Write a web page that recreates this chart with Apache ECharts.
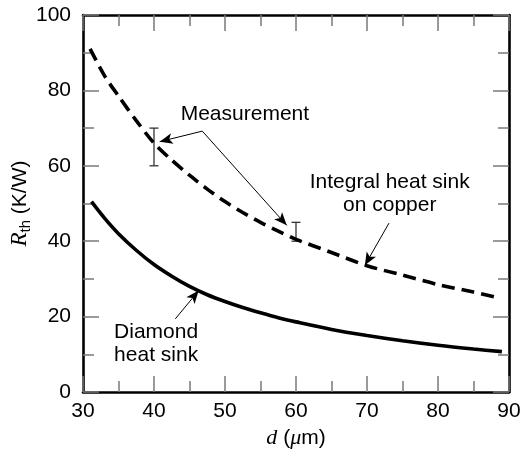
<!DOCTYPE html>
<html><head><meta charset="utf-8">
<script src="https://cdn.jsdelivr.net/npm/echarts@6/dist/echarts.min.js"></script>
<style>html,body{margin:0;padding:0;background:#fff}#c{width:524px;height:456px}</style>
</head><body><div id="c"></div>
<script>
// Integral heat sink on copper (dashed)
const copperD = [31, 33, 35, 37.5, 40, 42.5, 45, 47.5, 50, 52.5, 55, 57.5, 60, 65, 70, 75, 80, 85, 88.5];
const copperR = [91, 84, 78.5, 72, 66, 61.5, 57.5, 53.8, 50.5, 47.6, 45, 42.7, 40.5, 37, 33.5, 31, 28.5, 26.5, 25];
// Diamond heat sink (solid)
const diamondD = [31.2, 33, 35, 37.5, 40, 42.5, 45, 47.5, 50, 52.5, 55, 57.5, 60, 65, 70, 75, 80, 85, 89];
const diamondR = [50.5, 46.2, 42, 37.6, 33.8, 30.7, 28, 25.8, 24, 22.4, 21, 19.7, 18.6, 16.6, 15, 13.6, 12.4, 11.4, 10.7];
// Measurements (error bars)
const measD = [40, 60];
const measLow = [60, 40];
const measHigh = [70, 45];
// Axes
const xMin = 30, xMax = 90, xStep = 10;
const yMin = 0, yMax = 100, yStep = 20;

const FONT = 'Liberation Sans, Arial, Helvetica, sans-serif';
const tickStyle = {color: '#7a7a7a', width: 1.5};
function axisCommon(showLabels, margin) {
  return {
    axisLine: {show: true, onZero: false, lineStyle: {color: '#000', width: 2.6}},
    axisTick: {show: true, inside: true, length: 16, lineStyle: tickStyle},
    minorTick: {show: true, splitNumber: 2, length: 11, lineStyle: tickStyle},
    splitLine: {show: false},
    axisLabel: {show: showLabels, margin: margin, color: '#000', fontSize: 21, fontFamily: FONT}
  };
}
const xBase = {type: 'value', min: xMin, max: xMax, interval: xStep};
const yBase = {type: 'value', min: yMin, max: yMax, interval: yStep};

const chart = echarts.init(document.getElementById('c'), null, {renderer: 'canvas'});
const zip = (a, b) => a.map((v, i) => [v, b[i]]);

chart.setOption({
  animation: false,
  backgroundColor: '#fff',
  grid: {left: 83, right: 15, top: 15, bottom: 64, containLabel: false, outerBoundsMode: 'none'},
  xAxis: [
    Object.assign({}, xBase, axisCommon(true, 9), {
      position: 'bottom',
      name: '{i|d} ({m|μ}m)', nameLocation: 'middle', nameGap: 35, nameMoveOverlap: false,
      nameTextStyle: {color: '#000', fontSize: 21, fontFamily: FONT,
        rich: {i: {fontFamily: 'Liberation Serif, DejaVu Serif, serif', fontStyle: 'italic', fontSize: 22, color: '#000'},
               m: {fontFamily: 'Liberation Serif, DejaVu Serif, serif', fontStyle: 'italic', fontSize: 22, color: '#000'}}}
    }),
    Object.assign({}, xBase, axisCommon(false, 8), {position: 'top'})
  ],
  yAxis: [
    Object.assign({}, yBase, axisCommon(true, 12), {
      position: 'left',
      name: '{r|R}{s|th} (K/W)', nameLocation: 'middle', nameGap: 63, nameRotate: 90, nameMoveOverlap: false,
      nameTextStyle: {color: '#000', fontSize: 21, fontFamily: FONT, lineHeight: 26, verticalAlign: 'middle',
        rich: {r: {fontFamily: 'Liberation Serif, DejaVu Serif, serif', fontStyle: 'italic', fontSize: 23, lineHeight: 26, color: '#000'},
               s: {fontFamily: FONT, fontSize: 15, lineHeight: 15, verticalAlign: 'bottom', color: '#000'}}}
    }),
    Object.assign({}, yBase, axisCommon(false, 8), {position: 'right'})
  ],
  series: [
    {
      name: 'Integral heat sink on copper', type: 'line', xAxisIndex: 0, yAxisIndex: 0,
      data: zip(copperD, copperR), smooth: 0.3, showSymbol: false, symbol: 'none',
      lineStyle: {color: '#000', width: 3.6, type: [13, 7], cap: 'butt'},
      markLine: {
        silent: true, symbol: ['none', 'arrow'], symbolSize: [8, 13],
        label: {show: false},
        lineStyle: {color: '#000', width: 1, type: 'solid'},
        data: [
          [{coord: [46.8, 69.2]}, {coord: [40.8, 66.4]}],
          [{coord: [46.8, 69.2]}, {coord: [58.7, 44.2]}],
          [{coord: [73.1, 44.8]}, {coord: [69.7, 33.6]}],
          [{coord: [43.0, 19.4]}, {coord: [46.3, 26.9]}]
        ]
      }
    },
    {
      name: 'Diamond heat sink', type: 'line', xAxisIndex: 0, yAxisIndex: 0,
      data: zip(diamondD, diamondR), smooth: 0.3, showSymbol: false, symbol: 'none',
      lineStyle: {color: '#000', width: 3.6},
      markPoint: {
        silent: true, symbol: 'circle', symbolSize: 1,
        itemStyle: {color: 'rgba(0,0,0,0)'},
        label: {show: true, position: 'inside', color: '#000', fontSize: 21, fontFamily: FONT, lineHeight: 23, align: 'center'},
        data: [
          {coord: [52.8, 73.7], value: 0, label: {formatter: 'Measurement'}},
          {coord: [73.2, 52.5], value: 0, label: {formatter: 'Integral heat sink\non copper'}},
          {coord: [40.3, 12.9], value: 0, label: {formatter: 'Diamond\nheat sink'}}
        ]
      }
    },
    {
      name: 'Measurement', type: 'custom', xAxisIndex: 0, yAxisIndex: 0,
      data: measD.map((d, i) => [d, measLow[i], measHigh[i]]),
      encode: {x: 0, y: [1, 2]},
      renderItem: function (params, api) {
        const x = api.value(0);
        const lo = api.coord([x, api.value(1)]);
        const hi = api.coord([x, api.value(2)]);
        const w = 4.5;
        const st = {stroke: '#333', lineWidth: 1.3};
        return {type: 'group', children: [
          {type: 'line', shape: {x1: lo[0], y1: lo[1], x2: hi[0], y2: hi[1]}, style: st},
          {type: 'line', shape: {x1: lo[0] - w, y1: lo[1], x2: lo[0] + w, y2: lo[1]}, style: st},
          {type: 'line', shape: {x1: hi[0] - w, y1: hi[1], x2: hi[0] + w, y2: hi[1]}, style: st}
        ]};
      }
    }
  ]
});
</script>
</body></html>
